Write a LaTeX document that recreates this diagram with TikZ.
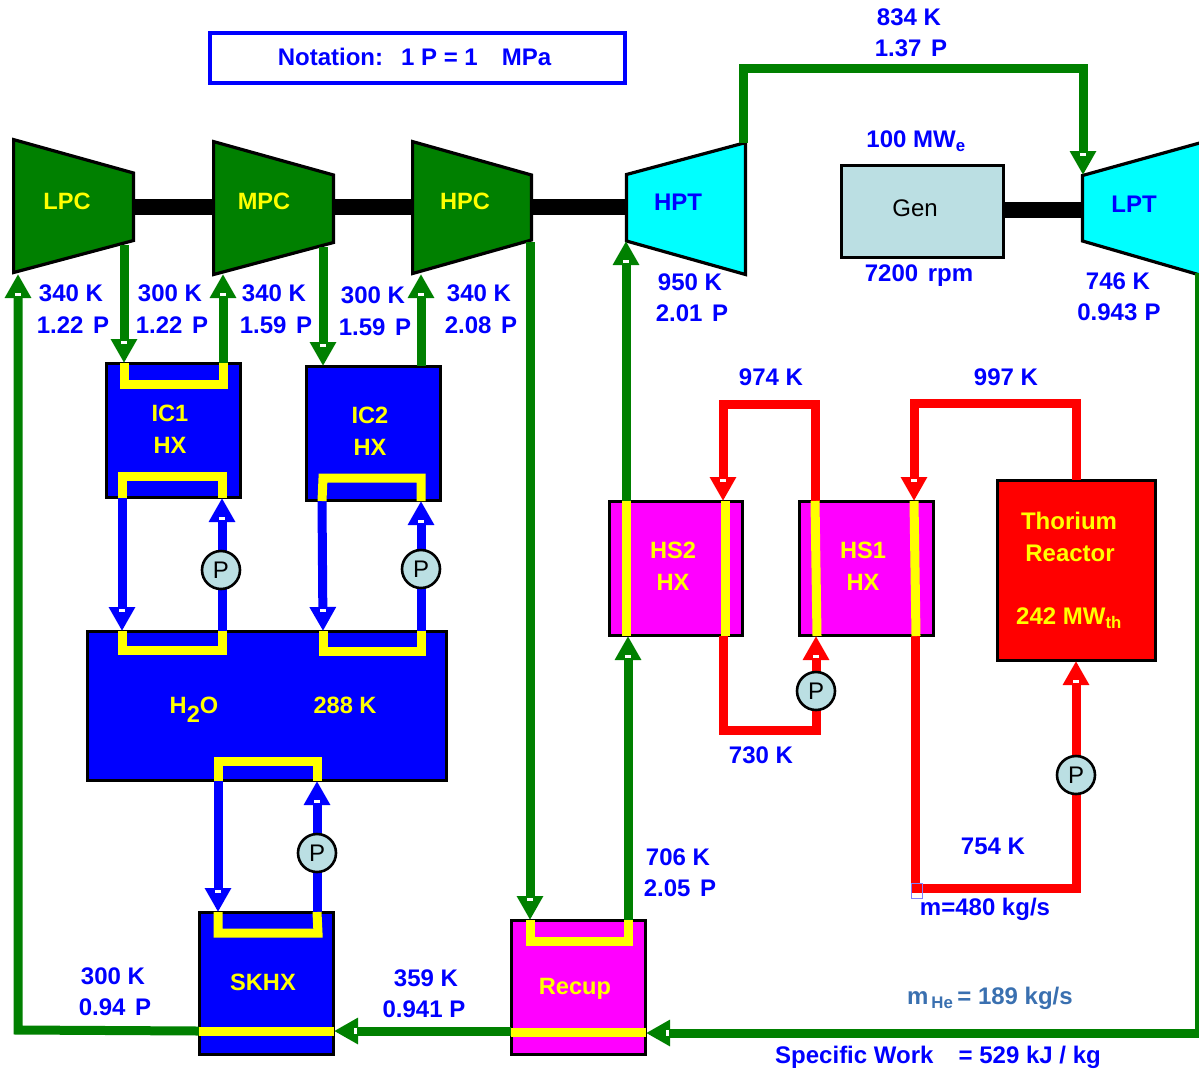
\documentclass[tikz,border=0pt]{standalone}
\usepackage{fontspec}
\setmainfont{Liberation Sans}
\usetikzlibrary{arrows.meta,calc}
\definecolor{hegreen}{HTML}{008000}
\definecolor{hxblue}{HTML}{0000FF}
\definecolor{hxyellow}{HTML}{FFFF00}
\definecolor{hxmag}{HTML}{FF00FF}
\definecolor{hxred}{HTML}{FF0000}
\definecolor{hxcyan}{HTML}{00FFFF}
\definecolor{pale}{HTML}{BBDFE3}
\definecolor{steel}{HTML}{3A70B0}
\tikzset{
  txt/.style={inner sep=0pt,outer sep=0pt,yshift=-0.4pt,font=\fontsize{24}{24}\selectfont\bfseries,text=hxblue},
  ytxt/.style={txt,text=hxyellow,font=\fontsize{23.6}{24}\selectfont\bfseries},
  box/.style={draw=black,line width=3pt,inner sep=0pt,outer sep=0pt},
  pump/.style={circle,draw=black,line width=2.6pt,fill=pale,minimum size=38pt,inner sep=0pt,font=\fontsize{24}{24}\selectfont},
  turbine/.style={draw=black,line width=3.2pt,line join=miter},
  pipe/.style={line width=9pt,line join=miter,line cap=butt},
  arrowed/.style={-{Triangle[length=24pt,width=25pt,sep=0pt]}},
  gpipe/.style={pipe,draw=hegreen},
  bpipe/.style={pipe,draw=hxblue},
  rpipe/.style={pipe,draw=hxred},
  ycoil/.style={pipe,draw=hxyellow,line width=9pt},
  shaft/.style={line width=16pt,draw=black},
}
\newcommand{\notchD}[1]{\fill[white] ($(#1)+(-3,-22)$) rectangle ++(6,3);}
\newcommand{\notchU}[1]{\fill[white] ($(#1)+(-3,19)$) rectangle ++(6,3);}
\newcommand{\notchL}[1]{\fill[white] ($(#1)+(20,-3)$) rectangle ++(3,6);}
\begin{document}
\begin{tikzpicture}[x=1pt,y=-1pt]
\useasboundingbox (0,0) rectangle (1199,1072);
\clip (0,0) rectangle (1199,1072);

% ---- ports
\coordinate (lpcOut) at (124,245);
\coordinate (ic1A) at (124,363);
\coordinate (ic1B) at (223,363);
\coordinate (mpcIn) at (223,274);
\coordinate (lpcIn) at (18,274);
\coordinate (leftCorner) at (18,1030);
\coordinate (skOutL) at (199,1031);
\coordinate (mpcOut) at (323,247);
\coordinate (ic2A) at (323,366);
\coordinate (ic2B) at (421,366);
\coordinate (hpcIn) at (421,274);
\coordinate (ic1C) at (122,498);
\coordinate (ic1D) at (222,498);
\coordinate (ic2C) at (322,501);
\coordinate (ic2D) at (421,501);
\coordinate (wA) at (122,631);
\coordinate (wB) at (222,631);
\coordinate (wC) at (323,631);
\coordinate (wD) at (421,631);
\coordinate (wE) at (218,781);
\coordinate (wF) at (317,781);
\coordinate (skA) at (218,912);
\coordinate (skB) at (317,912);
\coordinate (hpcOut) at (530,242);
\coordinate (recA) at (530,920);
\coordinate (recB) at (628,920);
\coordinate (hs2bot) at (628,636);
\coordinate (hs2top) at (626,501);
\coordinate (hptIn) at (626,241);
\coordinate (hptOut) at (743,143);
\coordinate (lptIn) at (1083,175);
\coordinate (hptUp) at (743,68);
\coordinate (lptUp) at (1083,68);
\coordinate (lptOut) at (1199,273);
\coordinate (farCorner) at (1199,1033);
\coordinate (recR) at (646,1033);
\coordinate (recL) at (511,1031);
\coordinate (skR) at (334,1031);
\coordinate (hsA) at (723,501);
\coordinate (hsAb) at (723,636);
\coordinate (hsB) at (816,636);
\coordinate (hsBt) at (815,501);
\coordinate (hsC) at (914,501);
\coordinate (hsCb) at (915,636);
\coordinate (rTop) at (1076,480);
\coordinate (rBot) at (1076,661);

% ---- shafts
\draw[shaft] (134,207) -- (213,207);
\draw[shaft] (334,207) -- (412,207);
\draw[shaft] (532,207) -- (626,207);
\draw[shaft] (1004,210) -- (1082,210);

% ---- machines
\draw[turbine,fill=hegreen] (13.6,139.6) -- (133.5,173) -- (133.5,240.5) -- (13.6,272.5) -- cycle;
\draw[turbine,fill=hegreen] (213.6,141.6) -- (333.5,175) -- (333.5,242.5) -- (213.6,274.5) -- cycle;
\draw[turbine,fill=hegreen] (412.6,141.6) -- (531.5,175) -- (531.5,240) -- (412.6,273.5) -- cycle;
\draw[turbine,fill=hxcyan,draw=black] (626.5,174.5) -- (745.5,142.6) -- (745.5,274.5) -- (626.5,241) -- cycle;
\draw[turbine,fill=hxcyan,draw=black] (1082.5,175.5) -- (1205,141.5) -- (1205,276.5) -- (1082.5,241) -- cycle;

% ---- boxes
\node[box,fill=pale,minimum width=162pt,minimum height=92pt] (gen) at (922,211.5) {};
\node[box,fill=hxblue,minimum width=134pt,minimum height=134pt] (ic1) at (173,430.5) {};
\node[box,fill=hxblue,minimum width=134pt,minimum height=134pt] (ic2) at (373,433.5) {};
\node[box,fill=hxblue,minimum width=359pt,minimum height=149pt] (water) at (266.5,705.5) {};
\node[box,fill=hxblue,minimum width=134pt,minimum height=142pt] (skhx) at (266,983.5) {};
\node[box,fill=hxmag,minimum width=134pt,minimum height=134pt] (recup) at (578,987.5) {};
\node[box,fill=hxmag,minimum width=133pt,minimum height=134pt] (hs2) at (675.5,568) {};
\node[box,fill=hxmag,minimum width=134pt,minimum height=134pt] (hs1) at (866,568) {};
\node[box,fill=hxred,minimum width=158pt,minimum height=180pt] (reactor) at (1076,570) {};
\node[draw=hxblue,line width=4pt,minimum width=415pt,minimum height=50pt,inner sep=0pt] (notebox) at (417.5,58) {};

% ---- pump positions
\coordinate (p1) at (221,570);
\coordinate (p2) at (421,569);
\coordinate (p3) at (317,853);
\coordinate (p4) at (816,691);
\coordinate (p5) at (1076,775);

% ---- green helium loop
\draw[gpipe,arrowed] (lpcOut) -- (ic1A); \notchD{ic1A}
\draw[gpipe,arrowed] (ic1B) -- (mpcIn); \notchU{mpcIn}
\draw[gpipe,arrowed] (mpcOut) -- (ic2A); \notchD{ic2A}
\draw[gpipe,arrowed] (ic2B) -- (hpcIn); \notchU{hpcIn}
\draw[gpipe,arrowed] (hpcOut) -- (recA); \notchD{recA}
\draw[gpipe,arrowed] (recB) -- (hs2bot); \notchU{hs2bot}
\draw[gpipe,arrowed] (hs2top) -- (hptIn); \notchU{hptIn}
\draw[gpipe,arrowed] (hptOut) -- (hptUp) -- (lptUp) -- (lptIn); \notchD{lptIn}
\draw[gpipe,arrowed] (lptOut) -- (farCorner) -- (recR); \notchL{recR}
\draw[gpipe,arrowed] (recL) -- (skR); \notchL{skR}
\draw[gpipe,arrowed] (skOutL) -- (leftCorner) -- (lpcIn); \notchU{lpcIn}

% ---- blue water loops
\draw[bpipe,arrowed] (ic1C) -- (wA); \notchD{wA}
\draw[bpipe,arrowed] (wB) -- (ic1D); \notchU{ic1D}
\draw[bpipe,arrowed] (ic2C) -- (wC); \notchD{wC}
\draw[bpipe,arrowed] (wD) -- (ic2D); \notchU{ic2D}
\draw[bpipe,arrowed] (wE) -- (skA); \notchD{skA}
\draw[bpipe,arrowed] (skB) -- (wF); \notchU{wF}

% ---- red salt loops
\draw[rpipe,arrowed] (hsBt) -- (815,404) -- (723,404) -- (hsA); \notchD{hsA}
\draw[rpipe,arrowed] (hsAb) -- (723,730) -- (816,730) -- (hsB); \notchU{hsB}
\draw[rpipe,arrowed] (rTop) -- (1076,403) -- (914,403) -- (hsC); \notchD{hsC}
\draw[rpipe,arrowed] (hsCb) -- (915,888) -- (1076,888) -- (rBot); \notchU{rBot}

% ---- yellow coils inside exchangers
\draw[ycoil] (ic1A) -- (124,384) -- (223,384) -- (ic1B);
\draw[ycoil] (ic1C) -- (122,476) -- (222,476) -- (ic1D);
\draw[ycoil] (ic2C) -- (323,478) -- (421,478) -- (ic2D);
\draw[ycoil] (wA) -- (122,650) -- (222,650) -- (wB);
\draw[ycoil] (wC) -- (323,651) -- (421,651) -- (wD);
\draw[ycoil] (wE) -- (218,761) -- (317,761) -- (wF);
\draw[ycoil] (skA) -- (218,933) -- (318,933) -- (skB);
\draw[ycoil] (recA) -- (530,941) -- (628,941) -- (recB);
\draw[ycoil] (skOutL) -- (skR);
\draw[ycoil] (511,1032) -- (646,1032);
\draw[ycoil] (hs2top) -- (626,636);
\draw[ycoil] (725,501) -- (725,636);
\draw[ycoil] (hsBt) -- (817,636);
\draw[ycoil] (hsC) -- (916,636);

% ---- pumps
\node[pump] (pump1) at (p1) {P};
\node[pump] (pump2) at (p2) {P};
\node[pump] (pump3) at (p3) {P};
\node[pump] (pump4) at (p4) {P};
\node[pump] (pump5) at (p5) {P};

% ---- selection mark
\draw[draw=hxblue!50,line width=0.8pt] (911,883) rectangle (922,898);

% ---- machine and exchanger labels
\node[ytxt] (lLPC) at (67,201) {LPC};
\node[ytxt] (lMPC) at (264,201) {MPC};
\node[ytxt] (lHPC) at (465,201) {HPC};
\node[txt] (lHPT) at (678,202) {HPT};
\node[txt] (lLPT) at (1134,204) {LPT};
\node[txt,font=\fontsize{24}{24}\selectfont,text=black] (lGen) at (915,208) {Gen};
\node[ytxt] (lIC1a) at (170,413) {IC1};
\node[ytxt] (lIC1b) at (170,445) {HX};
\node[ytxt] (lIC2a) at (370,415) {IC2};
\node[ytxt] (lIC2b) at (370,447) {HX};
\node[ytxt,anchor=base] (lH2O) at (194,713) {H\raisebox{-9pt}{2}O};
\node[ytxt] (l288) at (345,705) {288 K};
\node[ytxt] (lSK) at (263,982) {SKHX};
\node[ytxt] (lRec) at (575,988) {Recup};
\node[ytxt] (lHS2a) at (673,550) {HS2};
\node[ytxt] (lHS2b) at (673,582) {HX};
\node[ytxt] (lHS1a) at (863,550) {HS1};
\node[ytxt] (lHS1b) at (863,582) {HX};
\node[ytxt,font=\fontsize{24}{24}\selectfont\bfseries] (lTha) at (1069,521) {Thorium};
\node[ytxt,font=\fontsize{24}{24}\selectfont\bfseries] (lThb) at (1070,553) {Reactor};
\node[ytxt,font=\fontsize{24}{24}\selectfont\bfseries] (lThc) at (1069,618) {242 MW\textsubscript{th}};

% ---- state labels
\node[txt] (note) at (414.5,57) {Notation:\hspace{18pt}1 P = 1\hspace{24pt}MPa};
\node[txt] (s1) at (909,17) {834 K};
\node[txt] (s2) at (911,48) {1.37\hspace{0.4em}P};
\node[txt] (s3) at (916,141) {100 MW\textsubscript{e}};
\node[txt] (s4) at (919,275) {7200\hspace{0.4em}rpm};
\node[txt] (s5) at (690,282) {950 K};
\node[txt] (s6) at (692,313) {2.01\hspace{0.4em}P};
\node[txt] (s7) at (1118,281) {746 K};
\node[txt] (s8) at (1119,312) {0.943\hspace{0.3em}P};
\node[txt] (s9) at (71,293) {340 K};
\node[txt] (s10) at (73,325) {1.22\hspace{0.4em}P};
\node[txt] (s11) at (170,293) {300 K};
\node[txt] (s12) at (172,325) {1.22\hspace{0.4em}P};
\node[txt] (s13) at (274,293) {340 K};
\node[txt] (s14) at (276,325) {1.59\hspace{0.4em}P};
\node[txt] (s15) at (373,295) {300 K};
\node[txt] (s16) at (375,327) {1.59\hspace{0.4em}P};
\node[txt] (s17) at (479,293) {340 K};
\node[txt] (s18) at (481,325) {2.08\hspace{0.4em}P};
\node[txt] (s19) at (771,377) {974 K};
\node[txt] (s20) at (1006,377) {997 K};
\node[txt] (s21) at (761,755) {730 K};
\node[txt] (s22) at (993,846) {754 K};
\node[txt] (s23) at (678,857) {706 K};
\node[txt] (s24) at (680,888) {2.05\hspace{0.4em}P};
\node[txt] (s25) at (113,976) {300 K};
\node[txt] (s26) at (115,1007) {0.94\hspace{0.4em}P};
\node[txt] (s27) at (426,978) {359 K};
\node[txt] (s28) at (424,1009) {0.941 P};
\node[txt] (s29) at (985,909) {m=480 kg/s};
\node[txt,text=steel] (s30) at (990,998) {m\textsubscript{\,He}\,= 189 kg/s};
\node[txt] (s31) at (938,1057) {Specific Work\hspace{1.05em}= 529 kJ / kg};
\end{tikzpicture}
\end{document}
